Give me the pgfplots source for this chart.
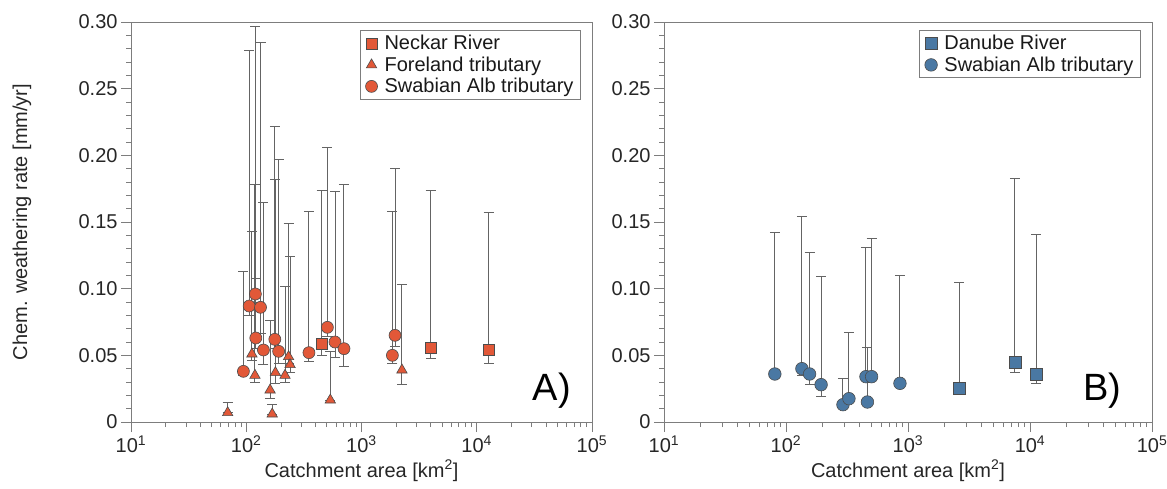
\documentclass[border=0pt]{standalone}
\usepackage{fontspec}
\setmainfont{Liberation Sans}
\usepackage{pgfplots}
\usepackage{pgfplotstable}
\pgfplotsset{compat=1.18}
\definecolor{orng}{RGB}{226,88,56}
\definecolor{blu}{RGB}{74,120,163}
\definecolor{frm}{RGB}{125,125,125}
\definecolor{ebar}{RGB}{100,100,100}

% x = catchment area, y = rate, ep = upper error, em = lower error
\pgfplotstableread{
x y ep em
451 0.059 0.115 0.009
3981 0.056 0.118 0.008
12700 0.054 0.103 0.010
}\neckar
\pgfplotstableread{
x y ep em
69 0.007 0.008 0.0
112 0.051 0.092 0.005
119 0.035 0.143 0.005
161 0.024 0.0525 0.006
168 0.006 0.0073 0.0
179 0.037 0.145 0.008
217 0.035 0.067 0.0055
233 0.049 0.100 0.005
240 0.043 0.081 0.006
536 0.0165 0.0365 0.0
2244 0.039 0.064 0.0105
}\foreland
\pgfplotstableread{
x y ep em
94.5 0.038 0.075 0.003
106 0.087 0.192 0.007
120 0.096 0.201 0.006
133 0.086 0.199 0.0195
121 0.063 0.045 0.008
141 0.054 0.111 0.0105
177 0.062 0.160 0.007
191 0.053 0.144 0.009
350 0.052 0.106 0.0065
506 0.071 0.135 0.007
589 0.060 0.113 0.0115
705 0.055 0.123 0.013
1854 0.050 0.108 0.006
1954 0.065 0.125 0.008
}\swabA
\pgfplotstableread{
x y ep em
2630 0.025 0.080 0.002
7530 0.045 0.138 0.008
11200 0.036 0.105 0.007
}\danube
\pgfplotstableread{
x y ep em
81 0.036 0.106 0.002
135 0.040 0.114 0.005
156 0.036 0.091 0.008
194 0.028 0.081 0.009
293 0.013 0.020 0.0
328 0.0175 0.0495 0.0
452 0.034 0.097 0.002
503 0.034 0.104 0.002
465 0.015 0.041 0.0
859 0.029 0.081 0.002
}\swabB

\begin{document}
\begin{tikzpicture}
\useasboundingbox (-131pt,-66pt) rectangle (1036pt,422pt);

\begin{axis}[width=461pt, height=400pt, scale only axis, at={(0pt,0pt)}, anchor=south west,
    xmode=log, xmin=10, xmax=100000, ymin=0, ymax=0.3,
    xtick={10,100,1000,10000,100000},
    xticklabels={10\textsuperscript{1},10\textsuperscript{2},10\textsuperscript{3},10\textsuperscript{4},10\textsuperscript{5}},
    minor xtick={20,30,40,50,60,70,80,90,200,300,400,500,600,700,800,900,2000,3000,4000,5000,6000,7000,8000,9000,20000,30000,40000,50000,60000,70000,80000,90000},
    ytick={0,0.05,0.1,0.15,0.2,0.25,0.3},
    yticklabels={0,0.05,0.10,0.15,0.20,0.25,0.30},
    minor y tick num=4,
    tick align=outside, xtick pos=bottom, ytick pos=left,
    axis line style={frm, line width=0.8pt},
    tick style={frm, line width=0.8pt},
    major tick length=10pt, minor tick length=5pt,
    tick label style={font=\fontsize{20}{22}\selectfont, text=black!85},
    xlabel style={font=\fontsize{20}{22}\selectfont, text=black!85},
    ylabel style={font=\fontsize{20}{22}\selectfont, text=black!85, at={(axis description cs:-0.2364,0.5)}, anchor=center},
    xlabel={Catchment area [km\textsuperscript{2}]},
    ylabel={Chem. weathering rate [mm/yr]},
    legend style={font=\fontsize{20}{21.5}\selectfont, draw=frm, line width=0.8pt, text=black!90,
      at={(rel axis cs:0.976,0.98)}, anchor=north east, inner xsep=5pt, inner ysep=3pt, row sep=1.5pt,
      /tikz/every odd column/.append style={column sep=5pt}},
    legend cell align=left,
    clip=false]
\addplot[forget plot, only marks, mark=none, error bars/y dir=both, error bars/y explicit,
  error bars/error bar style={ebar, line width=1pt},
  error bars/error mark options={rotate=90, mark size=5pt, ebar, line width=1pt}]
  table[x=x,y=y,y error plus=ep,y error minus=em]{\neckar};
\addplot[forget plot, only marks, mark=none, error bars/y dir=both, error bars/y explicit,
  error bars/error bar style={ebar, line width=1pt},
  error bars/error mark options={rotate=90, mark size=5pt, ebar, line width=1pt}]
  table[x=x,y=y,y error plus=ep,y error minus=em]{\foreland};
\addplot[forget plot, only marks, mark=none, error bars/y dir=both, error bars/y explicit,
  error bars/error bar style={ebar, line width=1pt},
  error bars/error mark options={rotate=90, mark size=5pt, ebar, line width=1pt}]
  table[x=x,y=y,y error plus=ep,y error minus=em]{\swabA};
\addplot[only marks, mark=square*, mark size=5.5pt, mark options={fill=orng, draw=black!70, line width=0.6pt}] table[x=x,y=y]{\neckar};
\addlegendentry{Neckar River}
\addplot[only marks, mark=triangle*, mark size=6pt, mark options={fill=orng, draw=black!70, line width=0.6pt}] table[x=x,y=y]{\foreland};
\addlegendentry{Foreland tributary}
\addplot[only marks, mark=*, mark size=6pt, mark options={fill=orng, draw=black!70, line width=0.6pt}] table[x=x,y=y]{\swabA};
\addlegendentry{Swabian Alb tributary}
\node[anchor=base east, font=\fontsize{38}{40}\selectfont, text=black] at (rel axis cs:0.962,0.055) {A)};
\end{axis}

\begin{axis}[width=488pt, height=400pt, scale only axis, at={(533pt,0pt)}, anchor=south west,
    xmode=log, xmin=10, xmax=100000, ymin=0, ymax=0.3,
    xtick={10,100,1000,10000,100000},
    xticklabels={10\textsuperscript{1},10\textsuperscript{2},10\textsuperscript{3},10\textsuperscript{4},10\textsuperscript{5}},
    minor xtick={20,30,40,50,60,70,80,90,200,300,400,500,600,700,800,900,2000,3000,4000,5000,6000,7000,8000,9000,20000,30000,40000,50000,60000,70000,80000,90000},
    ytick={0,0.05,0.1,0.15,0.2,0.25,0.3},
    yticklabels={0,0.05,0.10,0.15,0.20,0.25,0.30},
    minor y tick num=4,
    tick align=outside, xtick pos=bottom, ytick pos=left,
    axis line style={frm, line width=0.8pt},
    tick style={frm, line width=0.8pt},
    major tick length=10pt, minor tick length=5pt,
    tick label style={font=\fontsize{20}{22}\selectfont, text=black!85},
    xlabel style={font=\fontsize{20}{22}\selectfont, text=black!85},
    xlabel={Catchment area [km\textsuperscript{2}]},
    legend style={font=\fontsize{20}{21.5}\selectfont, draw=frm, line width=0.8pt, text=black!90,
      at={(rel axis cs:0.977,0.98)}, anchor=north east, inner xsep=5pt, inner ysep=3pt, row sep=1.5pt,
      /tikz/every odd column/.append style={column sep=5pt}},
    legend cell align=left,
    clip=false]
\addplot[forget plot, only marks, mark=none, error bars/y dir=both, error bars/y explicit,
  error bars/error bar style={ebar, line width=1pt},
  error bars/error mark options={rotate=90, mark size=5pt, ebar, line width=1pt}]
  table[x=x,y=y,y error plus=ep,y error minus=em]{\danube};
\addplot[forget plot, only marks, mark=none, error bars/y dir=both, error bars/y explicit,
  error bars/error bar style={ebar, line width=1pt},
  error bars/error mark options={rotate=90, mark size=5pt, ebar, line width=1pt}]
  table[x=x,y=y,y error plus=ep,y error minus=em]{\swabB};
\addplot[only marks, mark=square*, mark size=6pt, mark options={fill=blu, draw=black!70, line width=0.6pt}] table[x=x,y=y]{\danube};
\addlegendentry{Danube River}
\addplot[only marks, mark=*, mark size=6.3pt, mark options={fill=blu, draw=black!70, line width=0.6pt}] table[x=x,y=y]{\swabB};
\addlegendentry{Swabian Alb tributary}
\node[anchor=base east, font=\fontsize{38}{40}\selectfont, text=black] at (rel axis cs:0.945,0.055) {B)};
\end{axis}
\end{tikzpicture}
\end{document}
